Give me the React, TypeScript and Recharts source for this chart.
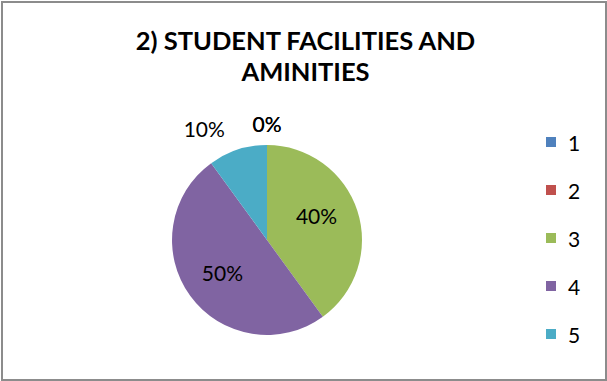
import { PieChart, Pie, Cell } from 'recharts'

const categories = ['1', '2', '3', '4', '5']
const values = [0, 0, 40, 50, 10]
const colors = ['#4F81BD', '#C0504D', '#9BBB59', '#8064A2', '#4BACC6']
const titleLines = ['2) STUDENT FACILITIES AND', 'AMINITIES']

const data = categories.map((name, i) => ({ name, value: values[i] }))

const FONT = 'Lato, "Open Sans", sans-serif'
const RAD = Math.PI / 180

function renderLabel(props: any) {
  const { cx, cy, midAngle, outerRadius, percent } = props
  const text = `${Math.round(percent * 100)}%`
  const inside = percent > 0.2
  const r = inside ? outerRadius * 0.58 : outerRadius + 22
  // nudge inner labels a little toward the top like the original best-fit placement
  const ang = inside && midAngle > 0 ? midAngle + 8 : midAngle
  let x = cx + r * Math.cos(-ang * RAD)
  const y = cy + r * Math.sin(-ang * RAD)
  let anchor: 'middle' | 'end' | 'start' = 'middle'
  if (!inside && x < cx - 5) {
    anchor = 'end'
    x -= 6
  }
  return (
    <text x={x} y={y} textAnchor={anchor} dominantBaseline="central" fill="#000" fontSize={21} fontFamily={FONT}>
      {text}
    </text>
  )
}

export default function App() {
  return (
    <div style={{ position: 'absolute', left: 0, top: 0, width: 607, height: 381, background: '#fff' }}>
      <div
        style={{
          position: 'absolute', left: 1, top: 1, width: 602, height: 376,
          border: '2px solid #8c8c8c', boxSizing: 'content-box',
        }}
      />
      <div
        style={{
          position: 'absolute', left: 2, top: 25, width: 607, textAlign: 'center',
          fontFamily: FONT, fontWeight: 700, fontSize: 25.5, lineHeight: '31px', color: '#000',
        }}
      >
        {titleLines.map((l) => (
          <div key={l}>{l}</div>
        ))}
      </div>
      <PieChart
        width={607}
        height={381}
        margin={{ top: 0, right: 0, bottom: 0, left: 0 }}
        style={{ position: 'absolute', left: 0, top: 0 }}
      >
        <Pie
          data={data}
          dataKey="value"
          nameKey="name"
          cx={267}
          cy={240}
          outerRadius={95}
          startAngle={90}
          endAngle={-270}
          stroke="none"
          label={renderLabel}
          labelLine={false}
          isAnimationActive={false}
        >
          {data.map((d, i) => (
            <Cell key={d.name} fill={colors[i]} />
          ))}
        </Pie>
      </PieChart>
      <div style={{ position: 'absolute', left: 546, top: 118, fontFamily: FONT }}>
        {data.map((d, i) => (
          <div key={d.name} style={{ display: 'flex', alignItems: 'center', height: 48 }}>
            <div style={{ width: 10, height: 10, background: colors[i], marginRight: 12 }} />
            <span style={{ fontSize: 21, color: '#000' }}>{d.name}</span>
          </div>
        ))}
      </div>
    </div>
  )
}
